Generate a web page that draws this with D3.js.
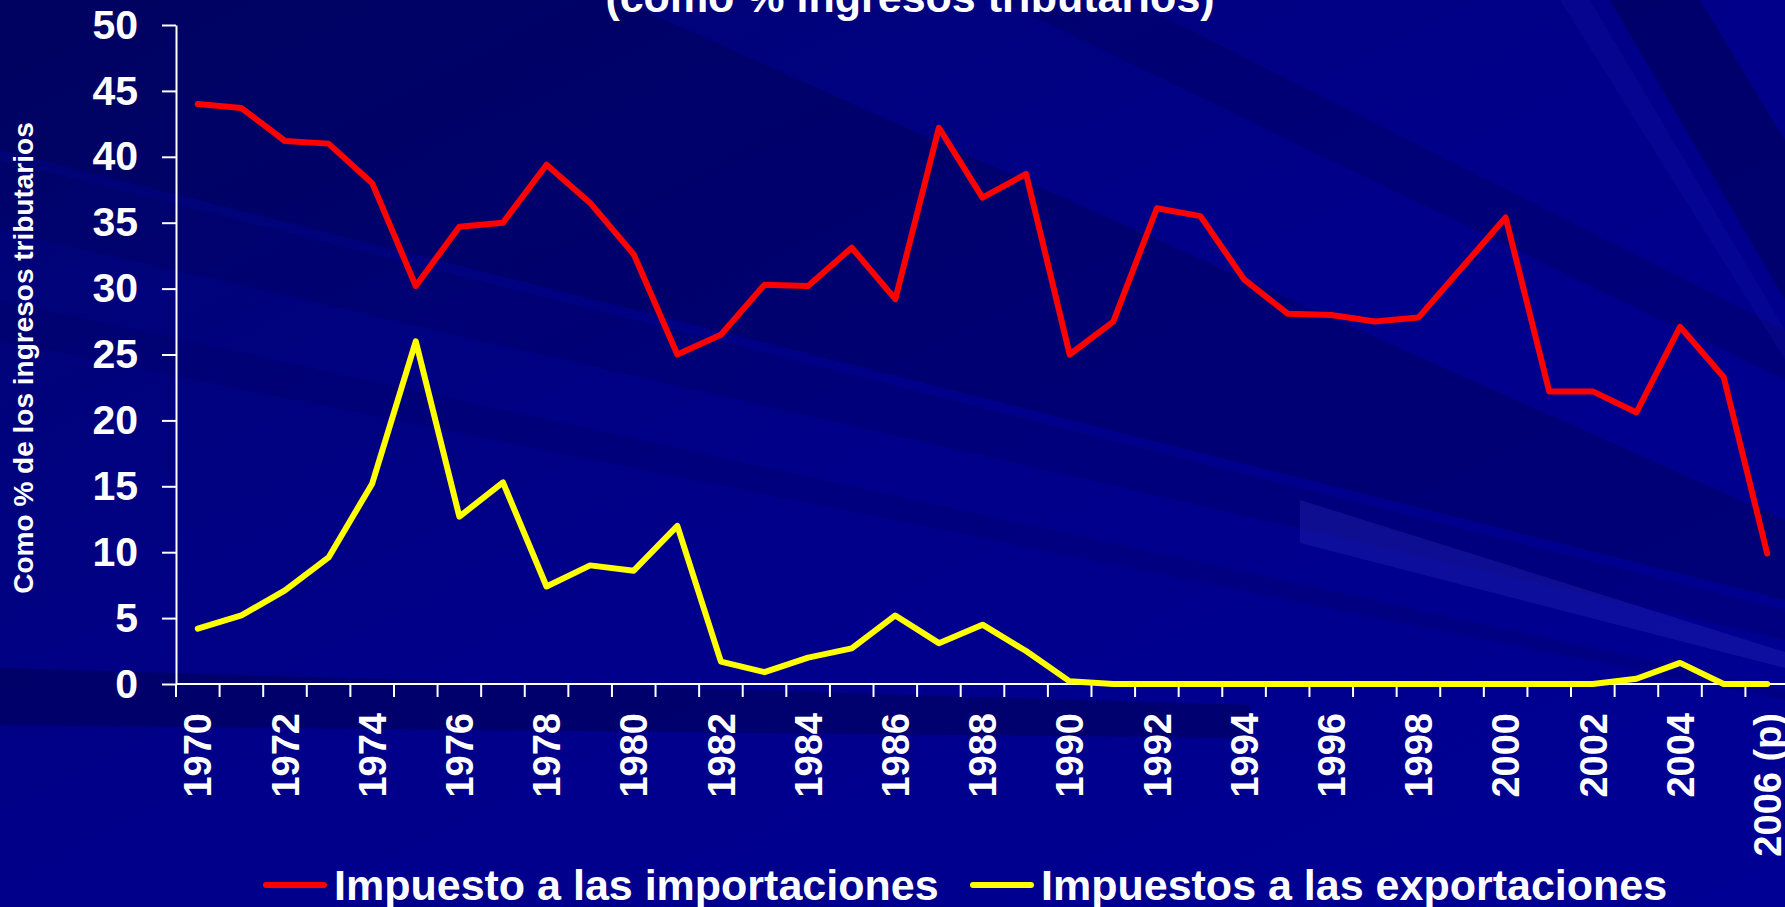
<!DOCTYPE html>
<html>
<head>
<meta charset="utf-8">
<script src="https://cdn.jsdelivr.net/npm/d3@7"></script>
<style>
  body { margin: 0; background: #00008c; overflow: hidden; }
  text { font-family: "Liberation Sans", Arial, sans-serif; font-weight: bold; fill: #fff; }
</style>
</head>
<body>
<div class="chart"></div>
<script>
var years = ["1970", "1971", "1972", "1973", "1974", "1975", "1976", "1977", "1978", "1979",
  "1980", "1981", "1982", "1983", "1984", "1985", "1986", "1987", "1988", "1989",
  "1990", "1991", "1992", "1993", "1994", "1995", "1996", "1997", "1998", "1999",
  "2000", "2001", "2002", "2003", "2004", "2005", "2006 (p)"];

// Impuesto a las importaciones (% ingresos tributarios)
var importTax = [44.0, 43.7, 41.2, 41.0, 38.0, 30.2, 34.7, 35.0, 39.4, 36.5,
  32.6, 25.0, 26.5, 30.3, 30.2, 33.1, 29.2, 42.2, 36.9, 38.7,
  25.0, 27.5, 36.1, 35.5, 30.7, 28.1, 28.0, 27.5, 27.8, 31.6,
  35.4, 22.2, 22.2, 20.6, 27.1, 23.3, 9.9];

// Impuestos a las exportaciones
var exportTax = [4.2, 5.2, 7.1, 9.6, 15.2, 26.0, 12.7, 15.3, 7.4, 9.0,
  8.6, 12.0, 1.7, 0.9, 2.0, 2.7, 5.2, 3.1, 4.5, 2.5,
  0.2, 0, 0, 0, 0, 0, 0, 0, 0, 0,
  0, 0, 0, 0.4, 1.6, 0, 0];

var yTicks = [0, 5, 10, 15, 20, 25, 30, 35, 40, 45, 50];

var svgWidth = 1785;
var svgHeight = 907;

var svg = d3.select(".chart")
  .append("svg")
  .attr("width", svgWidth)
  .attr("height", svgHeight);

// background with light/dark rays
var defs = svg.append("defs");
var grad = defs.append("linearGradient")
  .attr("id", "bg")
  .attr("x1", "0").attr("y1", "0").attr("x2", "1").attr("y2", "1");
grad.append("stop").attr("offset", "0%").attr("stop-color", "#000470");
grad.append("stop").attr("offset", "50%").attr("stop-color", "#00008a");
grad.append("stop").attr("offset", "100%").attr("stop-color", "#000094");

svg.append("rect")
  .attr("width", svgWidth)
  .attr("height", svgHeight)
  .attr("fill", "url(#bg)");

var rays = [
  { pts: [[0, 0], [620, 0], [1785, 520], [1785, 600], [0, 150]], fill: "#000040", op: 0.3 },
  { pts: [[0, 160], [0, 230], [1785, 640], [1785, 610]], fill: "#000050", op: 0.25 },
  { pts: [[0, 300], [0, 340], [1785, 700], [1785, 690]], fill: "#000050", op: 0.2 },
  { pts: [[0, 668], [0, 725], [1250, 738], [1250, 705]], fill: "#000040", op: 0.4 },
  { pts: [[1300, 500], [1785, 652], [1785, 668], [1300, 543]], fill: "#3030c0", op: 0.3 },
  { pts: [[1000, 0], [1130, 0], [1785, 330], [1785, 380]], fill: "#000050", op: 0.3 },
  { pts: [[1610, 0], [1700, 0], [1785, 140], [1785, 300]], fill: "#000040", op: 0.4 },
  { pts: [[1560, 0], [1590, 0], [1785, 330], [1785, 360]], fill: "#1a1ab0", op: 0.2 }
];
svg.selectAll(".ray")
  .data(rays)
  .enter()
  .append("polygon")
  .attr("class", "ray")
  .attr("points", d => d.pts.map(p => p.join(",")).join(" "))
  .attr("fill", d => d.fill)
  .attr("opacity", d => d.op);

// scales
var xScale = d3.scaleBand()
  .domain(years)
  .range([176, 1789]);

var yScale = d3.scaleLinear()
  .domain([0, 50])
  .range([684, 25]);

var cx = d => xScale(d) + xScale.bandwidth() / 2;

// title (cut at the top of the slide)
svg.append("text")
  .attr("x", 910)
  .attr("y", 12)
  .attr("text-anchor", "middle")
  .style("font-size", "43px")
  .text("(como % ingresos tributarios)");

// y axis
var leftAxis = d3.axisLeft(yScale)
  .tickValues(yTicks)
  .tickSize(14)
  .tickSizeOuter(0)
  .tickPadding(24);

var yAxisG = svg.append("g")
  .attr("transform", "translate(176,0)")
  .call(leftAxis);
yAxisG.select(".domain").attr("stroke", "#fff").attr("stroke-width", 2);
yAxisG.selectAll(".tick line").attr("stroke", "#fff").attr("stroke-width", 2);
yAxisG.selectAll(".tick text")
  .attr("fill", "#fff")
  .style("font-size", "41px")
  .style("font-family", "'Liberation Sans', Arial, sans-serif")
  .style("font-weight", "bold");

svg.append("text")
  .attr("transform", "translate(23,358) rotate(-90)")
  .attr("text-anchor", "middle")
  .attr("dy", "0.35em")
  .style("font-size", "28px")
  .text("Como % de los ingresos tributarios");

// x axis: line, ticks at category edges, labels every other year
svg.append("line")
  .attr("x1", xScale.range()[0])
  .attr("x2", xScale.range()[1])
  .attr("y1", yScale(0))
  .attr("y2", yScale(0))
  .attr("stroke", "#fff")
  .attr("stroke-width", 2);

var edges = years.map(d => xScale(d)).concat([xScale.range()[1]]);
svg.selectAll(".xtick")
  .data(edges)
  .enter()
  .append("line")
  .attr("class", "xtick")
  .attr("x1", d => d)
  .attr("x2", d => d)
  .attr("y1", yScale(0))
  .attr("y2", yScale(0) + 13)
  .attr("stroke", "#fff")
  .attr("stroke-width", 2);

svg.selectAll(".xlabel")
  .data(years.filter((d, i) => i % 2 === 0))
  .enter()
  .append("text")
  .attr("class", "xlabel")
  .attr("transform", d => `translate(${cx(d)}, 713) rotate(-90)`)
  .attr("text-anchor", "end")
  .attr("dy", "0.36em")
  .style("font-size", "38px")
  .text(d => d);

// lines
var line = d3.line()
  .x((d, i) => cx(years[i]))
  .y(d => yScale(d));

svg.append("path")
  .datum(importTax)
  .attr("d", line)
  .attr("fill", "none")
  .attr("stroke", "#ff0000")
  .attr("stroke-width", 6)
  .attr("stroke-linejoin", "round")
  .attr("stroke-linecap", "round");

svg.append("path")
  .datum(exportTax)
  .attr("d", line)
  .attr("fill", "none")
  .attr("stroke", "#ffff00")
  .attr("stroke-width", 6)
  .attr("stroke-linejoin", "round")
  .attr("stroke-linecap", "round");

// legend
var legend = [
  { name: "Impuesto a las importaciones", color: "#ff0000", x: 266 },
  { name: "Impuestos a las exportaciones", color: "#ffff00", x: 973 }
];
var legendG = svg.selectAll(".legend")
  .data(legend)
  .enter()
  .append("g")
  .attr("class", "legend")
  .attr("transform", d => `translate(${d.x}, 885)`);

legendG.append("line")
  .attr("x1", 0)
  .attr("x2", 58)
  .attr("stroke", d => d.color)
  .attr("stroke-width", 6)
  .attr("stroke-linecap", "round");

legendG.append("text")
  .attr("x", 68)
  .attr("y", 15)
  .style("font-size", "43px")
  .text(d => d.name);
</script>
</body>
</html>
